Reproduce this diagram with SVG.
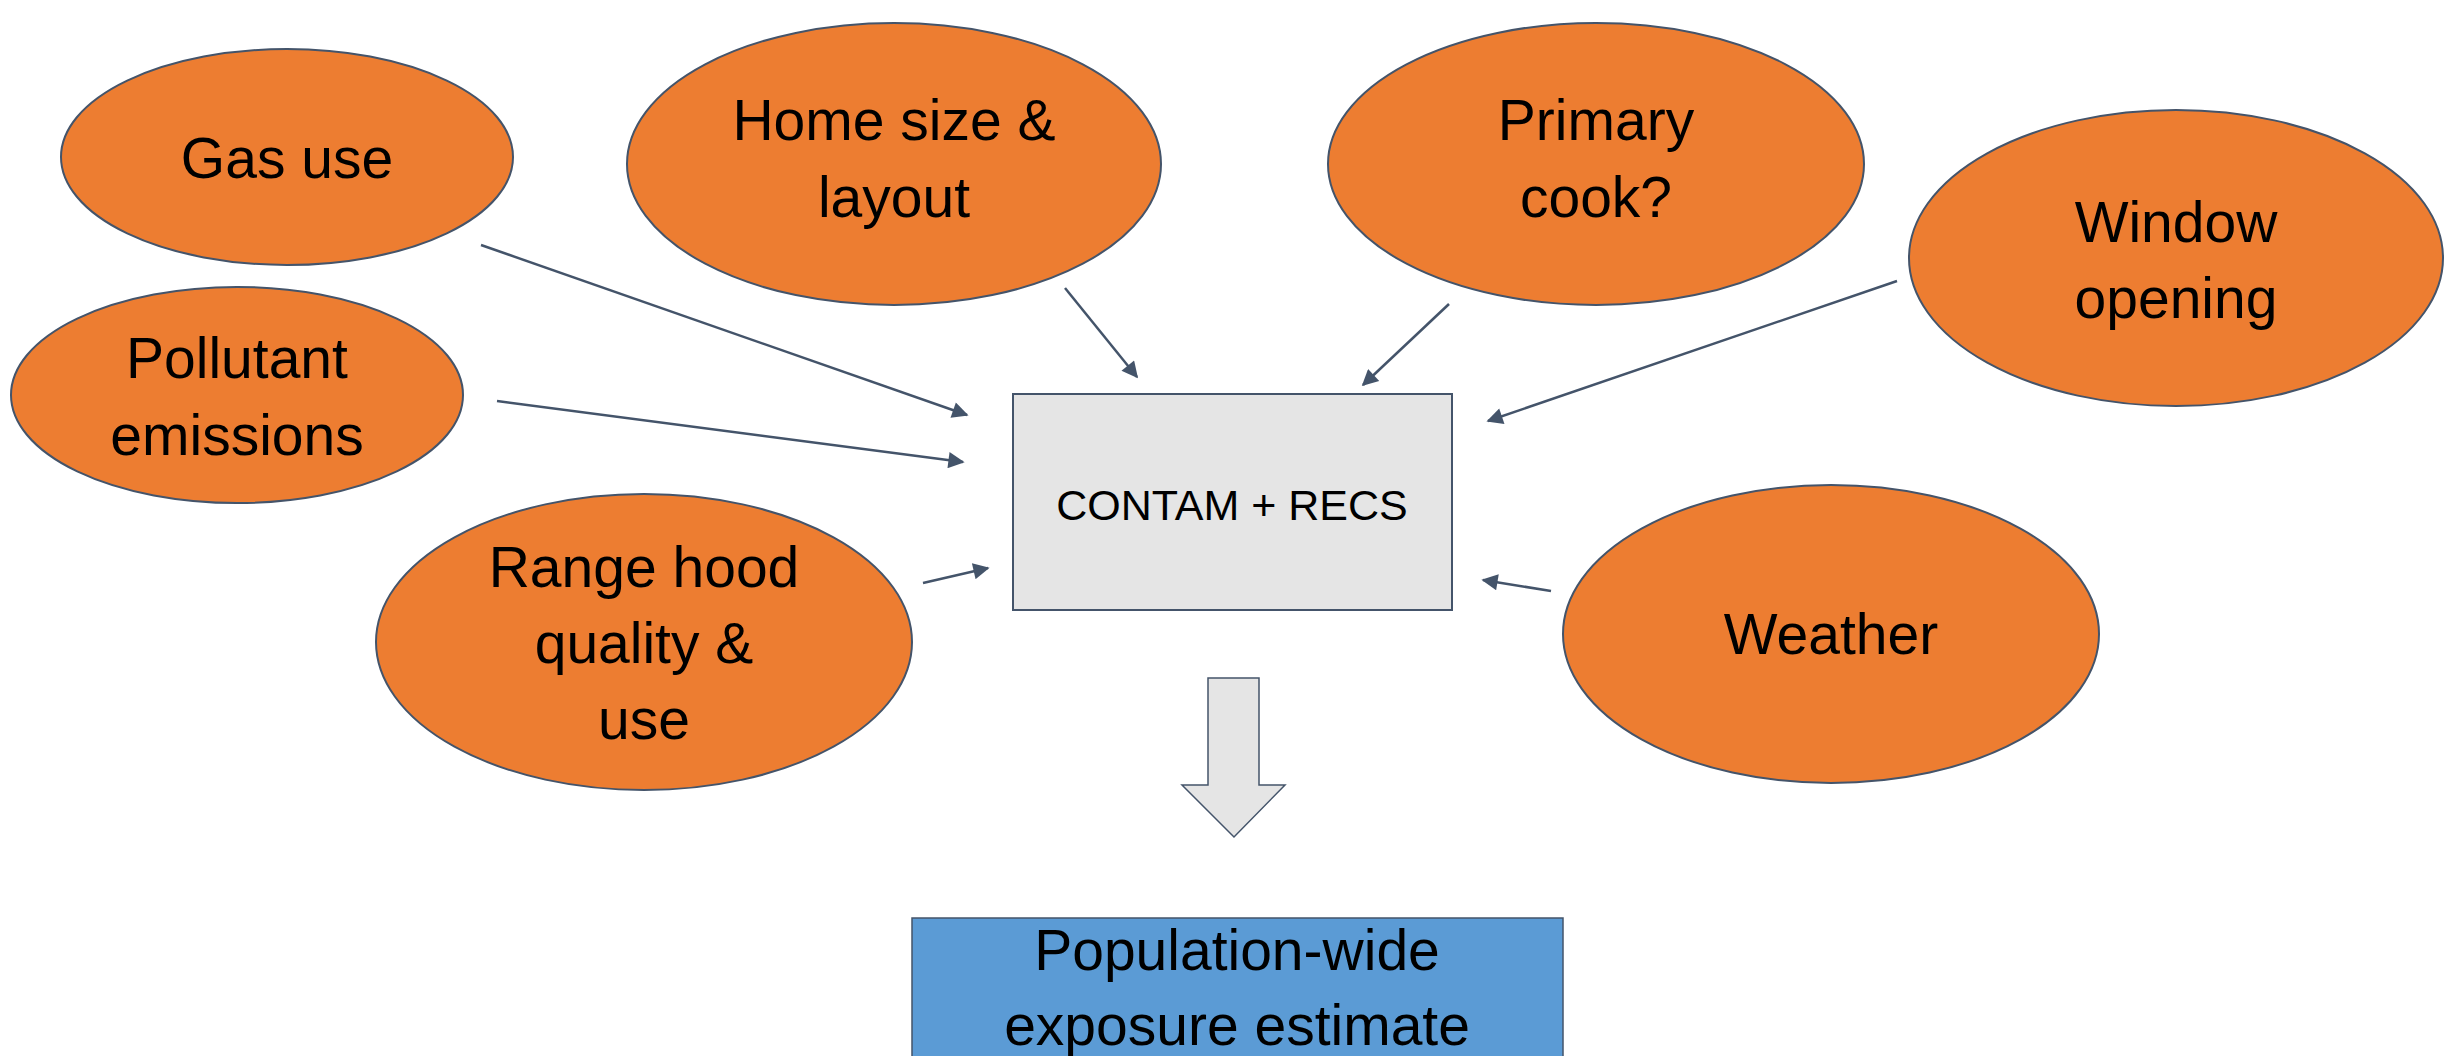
<svg xmlns="http://www.w3.org/2000/svg" width="2458" height="1056" viewBox="0 0 2458 1056">
<style>
.oval{fill:#ED7D31;stroke:#44546A;stroke-width:2}
.lbl{font-family:"Liberation Sans",Arial,sans-serif;font-size:57px;fill:#000;text-anchor:middle}
.small{font-size:43px}
.conn{stroke:#44546A;stroke-width:2.5;fill:none;marker-end:url(#ah)}
</style>
<defs>
<marker id="ah" viewBox="0 0 10 10" refX="9" refY="5" markerWidth="8" markerHeight="6.5" markerUnits="strokeWidth" orient="auto">
<path d="M0,0 L10,5 L0,10 z" fill="#44546A"/>
</marker>
</defs>
<rect width="2458" height="1056" fill="#fff"/>
<g id="gas-use"><ellipse class="oval" cx="287" cy="157" rx="226" ry="108"/><text class="lbl" x="287" y="178">Gas use</text></g>
<g id="home-size"><ellipse class="oval" cx="894" cy="164" rx="267" ry="141"/><text class="lbl" x="894" y="140">Home size &amp;</text><text class="lbl" x="894" y="217">layout</text></g>
<g id="primary-cook"><ellipse class="oval" cx="1596" cy="164" rx="268" ry="141"/><text class="lbl" x="1596" y="140">Primary</text><text class="lbl" x="1596" y="217">cook?</text></g>
<g id="window-opening"><ellipse class="oval" cx="2176" cy="258" rx="267" ry="148"/><text class="lbl" x="2176" y="242">Window</text><text class="lbl" x="2176" y="318">opening</text></g>
<g id="pollutant"><ellipse class="oval" cx="237" cy="395" rx="226" ry="108"/><text class="lbl" x="237" y="378">Pollutant</text><text class="lbl" x="237" y="455">emissions</text></g>
<g id="range-hood"><ellipse class="oval" cx="644" cy="642" rx="268" ry="148"/><text class="lbl" x="644" y="587">Range hood</text><text class="lbl" x="644" y="663">quality &amp;</text><text class="lbl" x="644" y="739">use</text></g>
<g id="weather"><ellipse class="oval" cx="1831" cy="634" rx="268" ry="149"/><text class="lbl" x="1831" y="654">Weather</text></g>
<g id="contam"><rect x="1013" y="394" width="439" height="216" fill="#E5E5E5" stroke="#44546A" stroke-width="2"/><text class="lbl small" x="1232" y="520">CONTAM + RECS</text></g>
<g id="block-arrow"><path d="M1208,678 H1259 V785 H1285 L1234,837 L1182,785 H1208 Z" fill="#E5E5E5" stroke="#44546A" stroke-width="1.5"/></g>
<g id="population"><rect x="912" y="918" width="651" height="160" fill="#5B9BD5" stroke="#44546A" stroke-width="1.5"/><text class="lbl" x="1237" y="970">Population-wide</text><text class="lbl" x="1237" y="1045">exposure estimate</text></g>
<g id="connectors">
<line class="conn" x1="481" y1="245" x2="967" y2="415"/>
<line class="conn" x1="497" y1="401" x2="963" y2="462"/>
<line class="conn" x1="923" y1="583" x2="988" y2="568"/>
<line class="conn" x1="1065" y1="288" x2="1137" y2="377"/>
<line class="conn" x1="1449" y1="304" x2="1363" y2="385"/>
<line class="conn" x1="1897" y1="281" x2="1488" y2="421"/>
<line class="conn" x1="1551" y1="591" x2="1483" y2="580"/>
</g>
</svg>
